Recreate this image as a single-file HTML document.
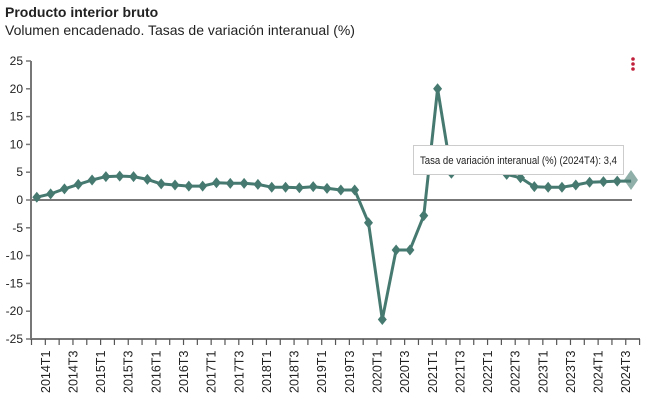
<!DOCTYPE html>
<html><head><meta charset="utf-8"><style>
html,body{margin:0;padding:0;background:#fff;width:658px;height:410px;overflow:hidden}
text{font-family:"Liberation Sans",Arial,sans-serif}
</style></head><body>
<svg width="658" height="410" xmlns="http://www.w3.org/2000/svg">
<text x="5" y="17" font-size="14" font-weight="bold" fill="#222">Producto interior bruto</text>
<text x="5" y="35" font-size="14" fill="#222">Volumen encadenado. Tasas de variación interanual (%)</text>
<g fill="#c0203c"><circle cx="633" cy="59" r="1.8"/><circle cx="633" cy="64" r="1.8"/><circle cx="633" cy="69" r="1.8"/></g>
<g id="ax" stroke="#777" stroke-width="2" fill="none">
<line x1="31" y1="61" x2="31" y2="340"/>
<line x1="31" y1="339" x2="640" y2="339"/>
<line x1="31" y1="200" x2="632" y2="200"/>
</g>
<g stroke="#777" stroke-width="1.5" id="yt"></g>
<g font-size="12" fill="#222" text-anchor="end" id="yl"></g>
<g stroke="#555" stroke-width="1.2" id="xt"></g>
<g font-size="12.5" fill="#222" id="xl"></g>
<polyline id="ln" fill="none" stroke="#467a70" stroke-width="3" stroke-linejoin="round"/>
<g id="pts" fill="#467a70"></g>
<polygon points="631,170 638,180 631,190 624,180" fill="#467a70" opacity="0.6"/>
<rect x="413.5" y="145.5" width="210" height="29" fill="#fff" stroke="#ccc"/>
<text x="420" y="164" font-size="11" fill="#222" textLength="197" lengthAdjust="spacingAndGlyphs">Tasa de variación interanual (%) (2024T4): 3,4</text>
</svg>
<script>
var d=[0.5,1.1,2.0,2.8,3.6,4.2,4.3,4.2,3.7,2.9,2.7,2.5,2.5,3.1,3.0,3.0,2.8,2.3,2.3,2.2,2.4,2.1,1.8,1.8,-4.1,-21.5,-9.0,-9.0,-2.8,20.0,4.8,6.5,7.0,7.5,4.6,4.0,2.4,2.3,2.3,2.7,3.2,3.3,3.4,3.4];
var X=i=>36.8+i*13.82, Y=v=>200-v*5.56, ns="http://www.w3.org/2000/svg";
function el(t,a,p,txt){var e=document.createElementNS(ns,t);for(var k in a)e.setAttribute(k,a[k]);if(txt)e.textContent=txt;document.getElementById(p).appendChild(e);}
var pts=d.map((v,i)=>X(i).toFixed(1)+","+Y(v).toFixed(1)).join(" ");
document.getElementById("ln").setAttribute("points",pts);
d.forEach((v,i)=>{if(i==43)return;var x=X(i),y=Y(v);el("polygon",{points:`${x},${y-5.5} ${x+4.5},${y} ${x},${y+5.5} ${x-4.5},${y}`},"pts");});
for(var v=-25;v<=25;v+=5){var y=Y(v);el("line",{x1:26,y1:y,x2:31,y2:y},"yt");el("text",{x:23,y:y+4},"yl",String(v));}
for(var i=0;i<=44;i++){var x=31.5+i*13.82;el("line",{x1:x,y1:339,x2:x,y2:345},"xt");}
var k=0;for(var yr=2014;yr<=2024;yr++)for(var q of [1,3]){var x=45.3+k*27.64;el("text",{transform:`translate(${x+4.5},393) rotate(-90)`},"xl",yr+"T"+q);k++;}
</script>
</body></html>
